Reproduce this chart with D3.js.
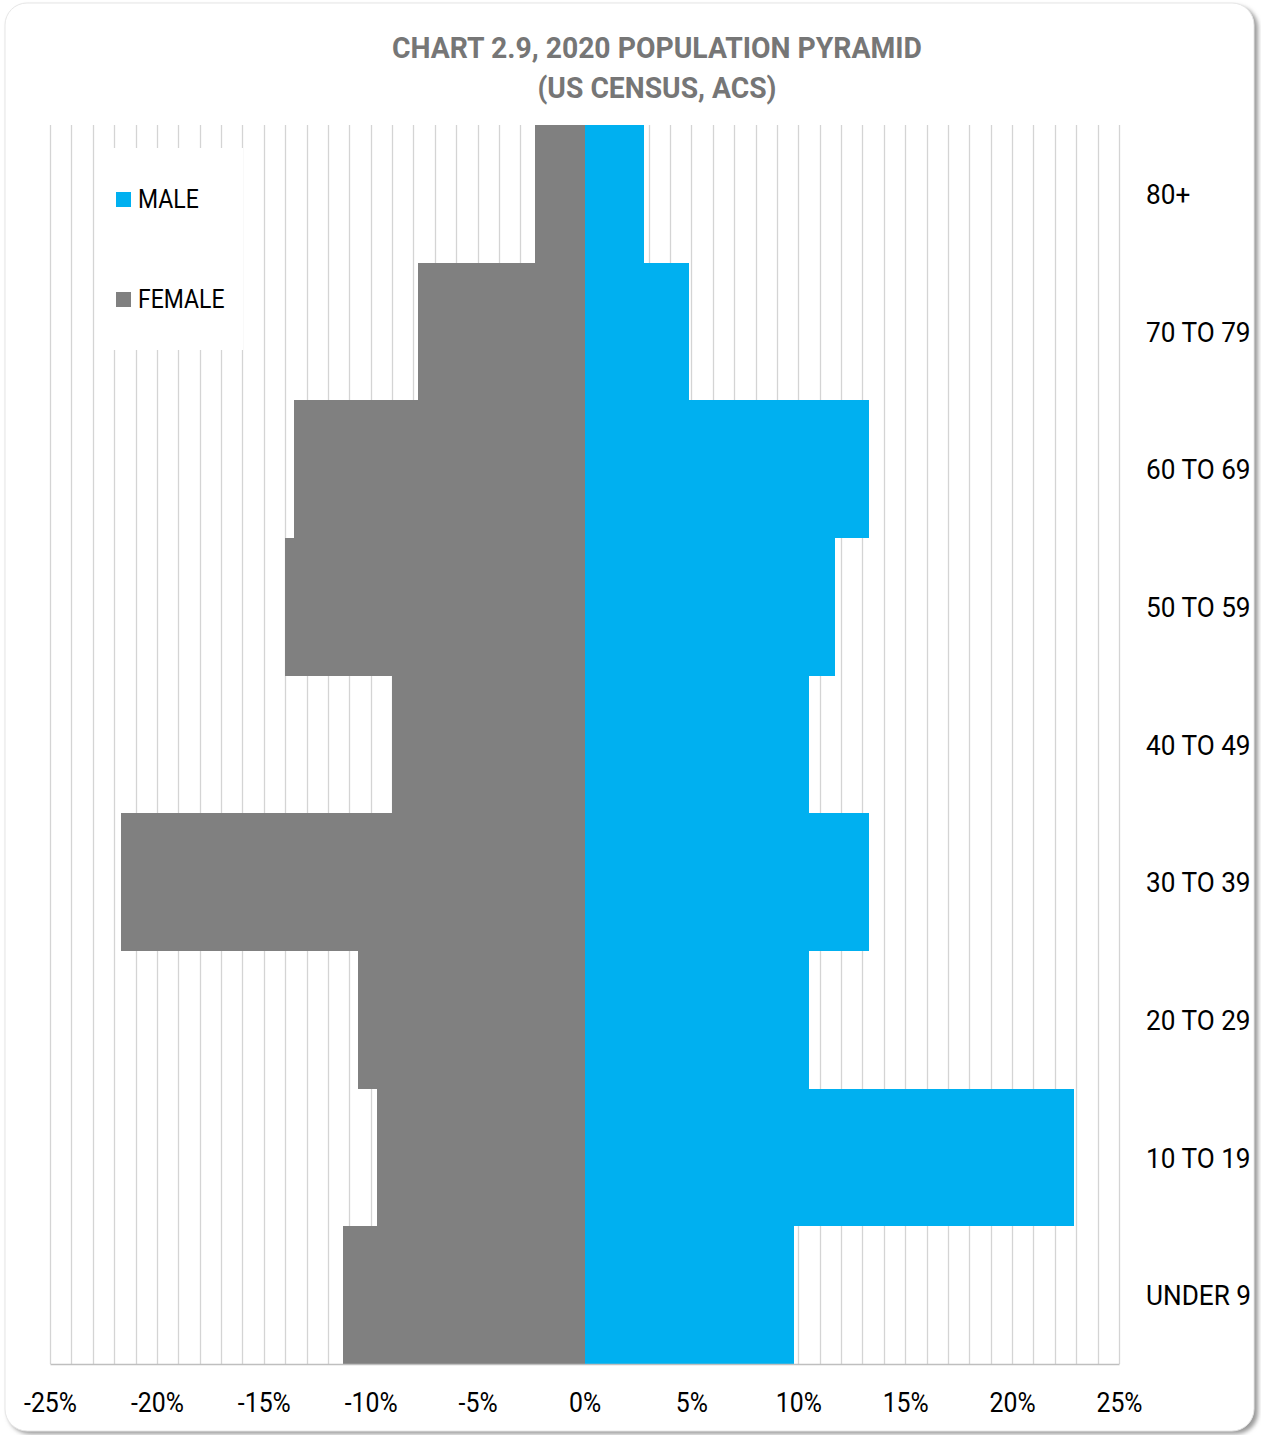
<!DOCTYPE html>
<html><head><meta charset="utf-8">
<script src="https://cdn.jsdelivr.net/npm/d3@7"></script>
<style>html,body{margin:0;padding:0;background:#fff;}svg{display:block;}</style>
</head><body>
<script>
const categories = ["UNDER 9","10 TO 19","20 TO 29","30 TO 39","40 TO 49","50 TO 59","60 TO 69","70 TO 79","80+"];
const maleValues   = [9.8, 22.9, 10.5, 13.3, 10.5, 11.7, 13.3, 4.9, 2.8];
const femaleValues = [11.3, 9.7, 10.6, 21.7, 9.0, 14.0, 13.6, 7.8, 2.3];
const tickValues = [-25,-20,-15,-10,-5,0,5,10,15,20,25];
const tickLabels = ["-25%","-20%","-15%","-10%","-5%","0%","5%","10%","15%","20%","25%"];
const seriesNames = ["MALE","FEMALE"];
const titleLines = ["CHART 2.9, 2020 POPULATION PYRAMID","(US CENSUS, ACS)"];

const W = 1261, H = 1435;
const svg = d3.select("body").append("svg").attr("width", W).attr("height", H);
const defs = svg.append("defs");
const f = defs.append("filter").attr("id","sh").attr("x","-5%").attr("y","-5%").attr("width","110%").attr("height","110%");
f.append("feGaussianBlur").attr("stdDeviation", 2);

// card
svg.append("rect").attr("x",8).attr("y",6).attr("width",1250).attr("height",1428).attr("rx",22)
  .attr("fill","#9a9a9a").attr("filter","url(#sh)");
svg.append("rect").attr("x",5).attr("y",3).attr("width",1249).attr("height",1428).attr("rx",22)
  .attr("fill","#fff").attr("stroke","#e6e6e6").attr("stroke-width",1);

const x = d3.scaleLinear().domain([-25,25]).range([50,1119]);
const y = d3.scaleBand().domain(categories.slice().reverse()).range([125,1364]).padding(0);

// minor gridlines every 1%
const grid = d3.range(-25, 26, 1);
svg.append("g").selectAll("line").data(grid).join("line")
  .attr("x1", d => Math.round(x(d)) + 0.5).attr("x2", d => Math.round(x(d)) + 0.5)
  .attr("y1", 125).attr("y2", 1364)
  .attr("stroke","#d4d4d4").attr("stroke-width",1.3);

// bars
const rows = categories.map((c,i) => ({c, m: maleValues[i], f: femaleValues[i]}));
const R = Math.round;
svg.append("g").attr("shape-rendering","crispEdges").selectAll("rect").data(rows).join("rect")
  .attr("x", d => R(x(-d.f))).attr("width", d => R(x(0)) - R(x(-d.f)))
  .attr("y", d => R(y(d.c))).attr("height", d => R(y(d.c) + y.bandwidth()) - R(y(d.c)))
  .attr("fill","#808080");
svg.append("g").attr("shape-rendering","crispEdges").selectAll("rect").data(rows).join("rect")
  .attr("x", R(x(0))).attr("width", d => R(x(d.m)) - R(x(0)))
  .attr("y", d => R(y(d.c))).attr("height", d => R(y(d.c) + y.bandwidth()) - R(y(d.c)))
  .attr("fill","#00B0F0");

// bottom axis
const ax = d3.axisBottom(x).tickValues(tickValues).tickSize(0).tickFormat((d,i) => tickLabels[i]);
const axg = svg.append("g").attr("transform","translate(0,1364)").call(ax);
axg.select(".domain").attr("stroke","#bfbfbf").attr("stroke-width",1.5);
axg.selectAll(".tick text").attr("font-family","Roboto").attr("font-size",27).attr("fill","#000")
  .attr("x",0).attr("y",0).attr("dy",0)
  .attr("transform","translate(0,48) scale(0.92,1)");

// category labels (right)
svg.append("g").selectAll("text").data(categories).join("text")
  .attr("transform", d => `translate(1146,${y(d) + y.bandwidth()/2 + 10}) scale(0.935,1)`)
  .attr("font-family","Roboto").attr("font-size",28).attr("fill","#000")
  .text(d => d);

// legend box
svg.append("rect").attr("x",100).attr("y",148).attr("width",143).attr("height",202).attr("fill","#fff");
const lg = [{n: seriesNames[0], c:"#00B0F0", y:199},{n: seriesNames[1], c:"#808080", y:299}];
const lgg = svg.append("g").selectAll("g").data(lg).join("g");
lgg.append("rect").attr("x",116).attr("y", d => d.y - 7).attr("width",15).attr("height",15).attr("fill", d => d.c);
lgg.append("text").attr("transform", d => `translate(138,${d.y + 9}) scale(0.92,1)`)
  .attr("font-family","Roboto").attr("font-size",25).attr("fill","#000").text(d => d.n);

// title
const tl = [{t: titleLines[0], y: 58, w: 530},{t: titleLines[1], y: 98, w: 239}];
svg.append("g").selectAll("text").data(tl).join("text")
  .attr("x", 657).attr("y", d => d.y).attr("text-anchor","middle")
  .attr("font-family","Roboto").attr("font-weight","bold").attr("font-size",29).attr("fill","#767676")
  .attr("textLength", d => d.w).attr("lengthAdjust","spacingAndGlyphs")
  .text(d => d.t);
</script>
</body></html>
